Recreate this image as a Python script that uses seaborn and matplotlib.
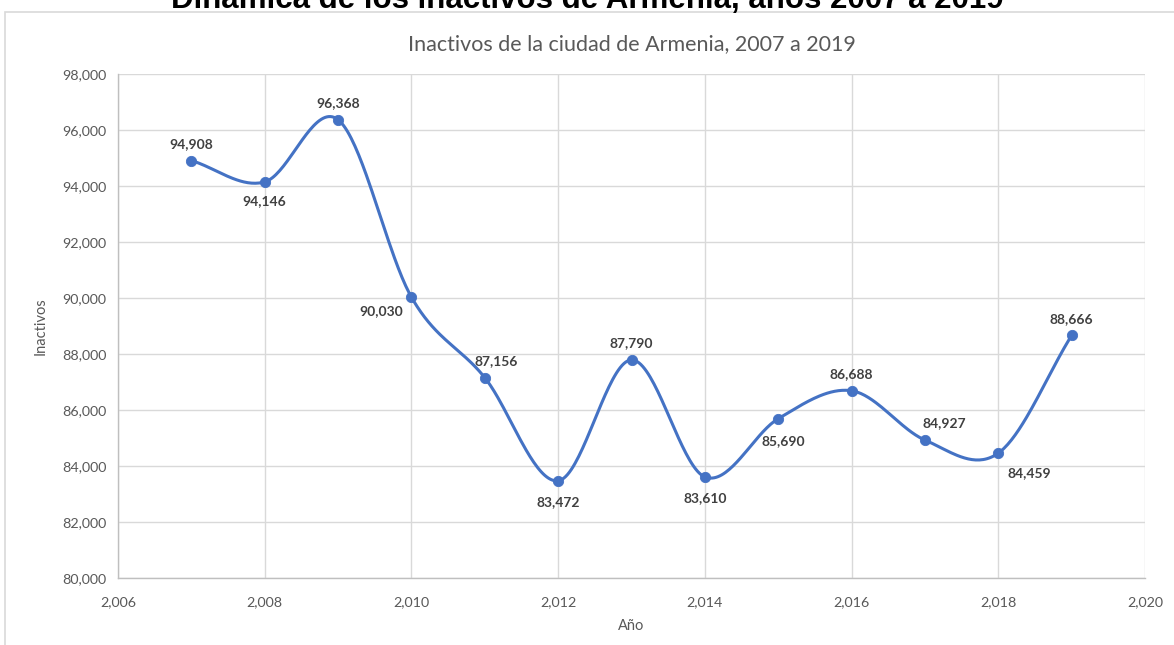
import numpy as np
import pandas as pd
import matplotlib
matplotlib.use("Agg")
import matplotlib.pyplot as plt
import seaborn as sns
from matplotlib.ticker import FuncFormatter, MultipleLocator
from matplotlib.patches import Rectangle

# ==========================
# DATA
# ==========================

years = [2007, 2008, 2009, 2010, 2011, 2012, 2013, 2014, 2015, 2016, 2017, 2018, 2019]
inactivos = [94908, 94146, 96368, 90030, 87156, 83472, 87790, 83610, 85690, 86688, 84927, 84459, 88666]

# label offsets (points) around each marker, like the manual placement in the original
label_dx = [0, 0, 0, -22, 8, 0, 0, 0, 4, 0, 14, 22, 0]
label_dy = [12, -14, 12, -10, 12, -15, 12, -15, -16, 12, 12, -14, 12]

df = pd.DataFrame({"Año": years, "Inactivos": inactivos})

# ==========================
# SMOOTH LINE (Catmull-Rom like Excel's smoothed line)
# ==========================

def catmull_rom(xs, ys, n=40):
    px = np.concatenate([[2 * xs[0] - xs[1]], xs, [2 * xs[-1] - xs[-2]]])
    py = np.concatenate([[2 * ys[0] - ys[1]], ys, [2 * ys[-1] - ys[-2]]])
    out_x, out_y = [], []
    t = np.linspace(0, 1, n)
    for i in range(1, len(px) - 2):
        for p, out in ((px, out_x), (py, out_y)):
            p0, p1, p2, p3 = p[i - 1], p[i], p[i + 1], p[i + 2]
            out.extend(0.5 * ((2 * p1) + (-p0 + p2) * t
                              + (2 * p0 - 5 * p1 + 4 * p2 - p3) * t ** 2
                              + (-p0 + 3 * p1 - 3 * p2 + p3) * t ** 3))
    return np.array(out_x), np.array(out_y)

sx, sy = catmull_rom(np.array(years, float), np.array(inactivos, float))
smooth = pd.DataFrame({"x": sx, "y": sy})

# ==========================
# PLOT
# ==========================

sns.set_style("white")
plt.rcParams["font.family"] = ["Lato", "DejaVu Sans"]

blue = "#4472C4"
grey_txt = "#595959"
grid_c = "#D9D9D9"

fig = plt.figure(figsize=(11.74, 6.45), dpi=100)
ax = fig.add_axes([118 / 1174, 1 - 578 / 645, (1145 - 118) / 1174, (578 - 74) / 645])

# chart frame
fig.patches.append(Rectangle((5 / 1174, -0.1), 1.2, 1 - 12 / 645 + 0.1,
                             transform=fig.transFigure, fill=False,
                             edgecolor="#D9D9D9", linewidth=1.2))

sns.lineplot(data=smooth, x="x", y="y", ax=ax, color=blue, linewidth=2.2, sort=False)
sns.scatterplot(data=df, x="Año", y="Inactivos", ax=ax, color=blue, s=55,
                edgecolor=blue, zorder=5)

for x, y, dx, dy in zip(years, inactivos, label_dx, label_dy):
    ax.annotate(f"{y:,}", (x, y), xytext=(dx, dy), textcoords="offset points",
                ha="center", va="center", fontsize=10, fontweight="bold",
                color="#404040")

ax.set_xlim(2006, 2020)
ax.set_ylim(80000, 98000)
ax.xaxis.set_major_locator(MultipleLocator(2))
ax.yaxis.set_major_locator(MultipleLocator(2000))
ax.xaxis.set_major_formatter(FuncFormatter(lambda v, p: f"{int(v):,}"))
ax.yaxis.set_major_formatter(FuncFormatter(lambda v, p: f"{int(v):,}"))

ax.grid(True, color=grid_c, linewidth=1)
ax.set_axisbelow(True)
for s in ["top", "right"]:
    ax.spines[s].set_visible(False)
for s in ["left", "bottom"]:
    ax.spines[s].set_color("#BFBFBF")
    ax.spines[s].set_linewidth(1)
ax.tick_params(axis="both", colors="#BFBFBF", length=5, width=1, labelcolor=grey_txt,
               labelsize=10.3, direction="out")
ax.tick_params(axis="x", pad=8)

ax.set_xlabel("Año", color=grey_txt, fontsize=10.5, labelpad=8)
ax.set_ylabel("Inactivos", color=grey_txt, fontsize=10.5, labelpad=10)
ax.set_title("Inactivos de la ciudad de Armenia, 2007 a 2019", color=grey_txt,
             fontsize=15.5, pad=17)

# main title, clipped at the top edge just like the original screenshot
fig.text(0.5, 1.0, "Dinámica de los inactivos de Armenia, años 2007 a 2019",
         ha="center", va="center", fontsize=22.5, fontweight="bold", color="black",
         family=["Liberation Sans", "DejaVu Sans"])

fig.savefig("out.png", dpi=100)
